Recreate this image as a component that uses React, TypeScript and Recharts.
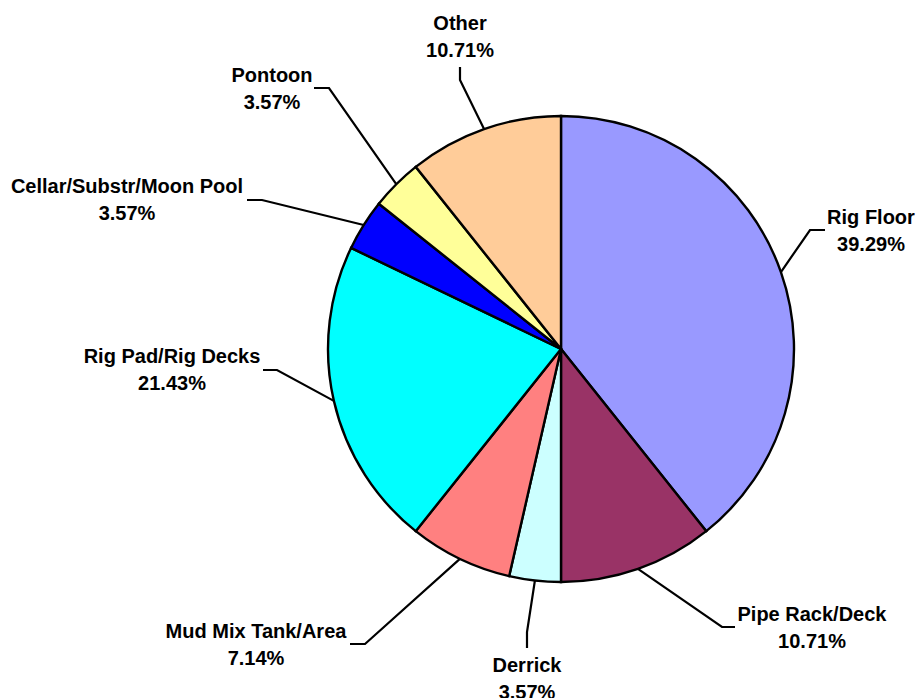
import { PieChart, Pie, Cell } from "recharts";

// Incident locations — counts (shares of 28)
const CATEGORIES = [
  "Rig Floor",
  "Pipe Rack/Deck",
  "Derrick",
  "Mud Mix Tank/Area",
  "Rig Pad/Rig Decks",
  "Cellar/Substr/Moon Pool",
  "Pontoon",
  "Other",
];
const COUNTS = [11, 3, 1, 2, 6, 1, 1, 3];

// Excel classic palette
const COLORS = [
  "#9999FF",
  "#993366",
  "#CCFFFF",
  "#FF8080",
  "#00FFFF",
  "#0000FF",
  "#FFFF99",
  "#FFCC99",
];

/* Label placement, offsets from the pie centre (px):
   t = text block centre, e = leader elbow, s = end of the short straight bit */
const LABEL_LAYOUT = [
  { tx: 310, ty: -119, ex: 249, ey: -119, sx: 264, sy: -119 },
  { tx: 251, ty: 278, ex: 161, ey: 278, sx: 174, sy: 278 },
  { tx: -34, ty: 329, ex: -34, ey: 283, sx: -34, sy: 299 },
  { tx: -305, ty: 295, ex: -196, ey: 295, sx: -211, sy: 295 },
  { tx: -389, ty: 20, ex: -284, ey: 21, sx: -298, sy: 21 },
  { tx: -434, ty: -150, ex: -299, ey: -149, sx: -314, sy: -149 },
  { tx: -289, ty: -261, ex: -232, ey: -261, sx: -247, sy: -261 },
  { tx: -101, ty: -313, ex: -101, ey: -269, sx: -101, sy: -282 },
];

const data = CATEGORIES.map((name, i) => ({ name, value: COUNTS[i] }));
const total = COUNTS.reduce((a, b) => a + b, 0);
const RAD = Math.PI / 180;

const FONT = "'Liberation Sans', Arial, Helvetica, sans-serif";

function renderLabel(props: any) {
  const { cx, cy, midAngle, outerRadius, index, name, value } = props;
  const l = LABEL_LAYOUT[index];
  const ax = cx + outerRadius * Math.cos(-midAngle * RAD);
  const ay = cy + outerRadius * Math.sin(-midAngle * RAD);
  const pts = `${ax},${ay} ${cx + l.ex},${cy + l.ey} ${cx + l.sx},${cy + l.sy}`;
  const pct = ((value / total) * 100).toFixed(2) + "%";
  return (
    <g key={`lbl-${index}`}>
      <polyline points={pts} fill="none" stroke="#000" strokeWidth={2.2} />
      <text
        x={cx + l.tx}
        y={cy + l.ty}
        textAnchor="middle"
        fontFamily={FONT}
        fontWeight="bold"
        fontSize={20}
        fill="#000"
      >
        <tspan x={cx + l.tx} y={cy + l.ty - 6.5}>
          {name}
        </tspan>
        <tspan x={cx + l.tx} y={cy + l.ty + 20.5}>
          {pct}
        </tspan>
      </text>
    </g>
  );
}

export default function App() {
  return (
    <div style={{ position: "absolute", left: 0, top: 0, width: 917, height: 698, background: "#fff" }}>
      <PieChart width={917} height={698} margin={{ top: 0, right: 0, bottom: 0, left: 0 }}>
        <Pie
          data={data}
          dataKey="value"
          nameKey="name"
          cx={561}
          cy={349}
          outerRadius={233}
          startAngle={90}
          endAngle={-270}
          stroke="#000"
          strokeWidth={2.4}
          label={renderLabel}
          labelLine={false}
          isAnimationActive={false}
        >
          {data.map((d, i) => (
            <Cell key={d.name} fill={COLORS[i]} />
          ))}
        </Pie>
      </PieChart>
    </div>
  );
}
